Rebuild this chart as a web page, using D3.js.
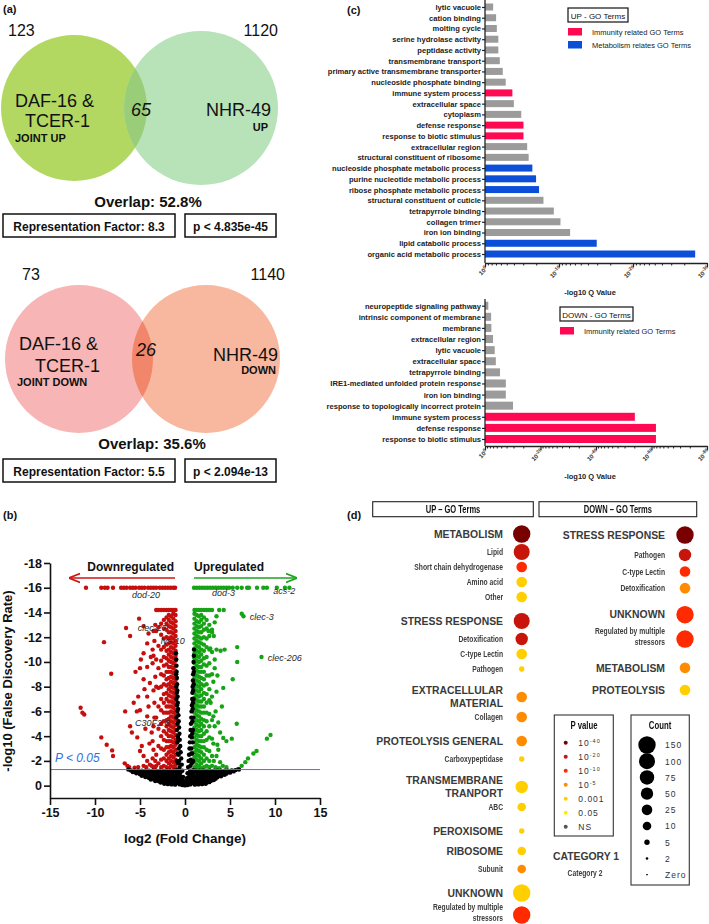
<!DOCTYPE html>
<html><head><meta charset="utf-8">
<script src="https://cdn.jsdelivr.net/npm/d3@7"></script>
<style>body{margin:0;background:#fff}svg{display:block}</style>
</head><body><svg id="c" width="709" height="924"></svg>
<script>
// ================= DATA =================
// (a) Venn
const vennUpNumbers = [123, 65, 1120];
const vennUpStats = ["Overlap: 52.8%", "Representation Factor: 8.3", "p < 4.835e-45"];
const vennDownNumbers = [73, 26, 1140];
const vennDownStats = ["Overlap: 35.6%", "Representation Factor: 5.5", "p < 2.094e-13"];

// (b) Volcano: [log2FC, log10 FDR shown as negative]
const volcanoXTicks = [-15, -10, -5, 0, 5, 10, 15];
const volcanoYTicks = [0, -2, -4, -6, -8, -10, -12, -14, -16, -18];
const fdrThreshold = -1.3;
const downCapX = [-11.0,-9.3,-8.9,-8.6,-8.0,-7.1,-6.8,-6.5,-6.1,-5.8,-5.5,-5.1,-4.8,-4.5,-4.1,-3.8,-3.5,-3.2,-2.8,-2.5,-2.2,-1.9,-1.6,-1.3,-1.1];
const upCapX = [1.0,1.3,1.6,1.9,2.2,2.5,2.8,3.1,3.4,3.7,4.0,4.3,4.6,4.9,5.3,5.8,6.3,6.9,7.1,8.0,8.7,9.1,10.2,11.1,11.6];
const capY = -16;
const downBlock = [
 [-1.05,[-14.2,-13.8,-13.3,-12.9,-12.5,-12.1,-11.7,-11.3,-10.9,-10.5,-10.1,-9.7,-9.3,-8.9,-8.5,-8.1,-7.7,-7.3,-6.9,-6.5,-6.1,-5.7,-5.3,-4.9,-4.5,-4.1,-3.7,-3.3,-2.9,-2.5,-2.1,-1.7,-1.4]],
 [-1.3,[-14.2,-13.9,-13.5,-13.1,-12.7,-12.3,-11.9,-11.5,-11.1,-10.7,-10.3,-9.9,-9.5,-9.1,-8.7,-8.3,-7.9,-7.5,-7.1,-6.7,-6.3,-5.9,-5.5,-5.1,-4.7,-4.3,-3.9,-3.5,-3.1,-2.7,-2.3,-1.9,-1.5]],
 [-1.55,[-14.2,-13.7,-13.2,-12.8,-12.4,-12.0,-11.6,-11.2,-10.8,-10.4,-10.0,-9.6,-9.2,-8.8,-8.4,-8.0,-7.6,-7.2,-6.8,-6.4,-6.0,-5.6,-5.2,-4.8,-4.4,-4.0,-3.6,-3.2,-2.8,-2.4,-2.0,-1.6]],
 [-1.8,[-14.2,-13.8,-13.4,-12.9,-12.4,-11.9,-11.5,-11.0,-10.6,-10.1,-9.6,-9.2,-8.7,-8.2,-7.8,-7.3,-6.8,-6.4,-5.9,-5.4,-5.0,-4.5,-4.0,-3.6,-3.1,-2.7,-2.2,-1.8,-1.4]],
 [-2.05,[-14.2,-13.6,-13.1,-12.6,-12.0,-11.4,-10.9,-10.3,-9.8,-9.2,-8.6,-8.1,-7.5,-7.0,-6.4,-5.9,-5.3,-4.8,-4.2,-3.6,-3.1,-2.5,-2.0,-1.5]],
 [-2.35,[-14.2,-13.4,-12.7,-11.9,-11.2,-10.4,-9.7,-8.9,-8.2,-7.4,-6.7,-5.9,-5.2,-4.4,-3.7,-2.9,-2.2,-1.6]],
 [-2.65,[-14.2,-13.1,-12.2,-11.0,-10.1,-9.0,-8.0,-7.0,-6.1,-5.0,-4.0,-3.0,-2.1,-1.5]],
 [-2.95,[-14.2,-12.8,-11.3,-9.5,-7.9,-6.4,-4.6,-3.2,-1.8]],
 [-3.2,[-14.2,-12.5,-10.2,-8.0,-5.5,-2.5,-1.6]]
];
const upBlock = [
 [1.05,[-14.2,-13.9,-13.5,-13.1,-12.7,-12.3,-11.9,-11.5,-11.1,-10.7,-10.3,-9.9,-9.5,-9.1,-8.7,-8.3,-7.9,-7.5,-7.1,-6.7,-6.3,-5.9,-5.5,-5.1,-4.7,-4.3,-3.9,-3.5,-3.1,-2.7,-2.3,-1.9,-1.5]],
 [1.3,[-14.2,-13.8,-13.3,-12.9,-12.5,-12.1,-11.7,-11.3,-10.9,-10.5,-10.1,-9.7,-9.3,-8.9,-8.5,-8.1,-7.7,-7.3,-6.9,-6.5,-6.1,-5.7,-5.3,-4.9,-4.5,-4.1,-3.7,-3.3,-2.9,-2.5,-2.1,-1.7,-1.4]],
 [1.55,[-14.2,-13.7,-13.2,-12.8,-12.4,-12.0,-11.6,-11.2,-10.8,-10.4,-10.0,-9.6,-9.2,-8.8,-8.4,-8.0,-7.6,-7.2,-6.8,-6.4,-6.0,-5.6,-5.2,-4.8,-4.4,-4.0,-3.6,-3.2,-2.8,-2.4,-2.0,-1.6]],
 [1.8,[-14.2,-13.8,-13.4,-12.9,-12.4,-11.9,-11.5,-11.0,-10.6,-10.1,-9.6,-9.2,-8.7,-8.2,-7.8,-7.3,-6.8,-6.4,-5.9,-5.4,-5.0,-4.5,-4.0,-3.6,-3.1,-2.7,-2.2,-1.8,-1.4]],
 [2.1,[-14.2,-13.6,-13.1,-12.6,-12.0,-11.4,-10.9,-10.3,-9.8,-9.2,-8.6,-8.1,-7.5,-7.0,-6.4,-5.9,-5.3,-4.8,-4.2,-3.6,-3.1,-2.5,-2.0,-1.5]],
 [2.4,[-14.2,-13.4,-12.7,-11.9,-11.2,-10.4,-9.7,-8.9,-8.2,-7.4,-6.7,-5.9,-5.2,-4.4,-3.7,-2.9,-2.2,-1.6]],
 [2.7,[-14.2,-13.0,-12.1,-11.0,-9.9,-8.9,-7.8,-6.9,-5.8,-4.8,-3.9,-2.8,-2.0,-1.5]],
 [3.0,[-14.2,-12.4,-10.8,-9.0,-7.2,-5.3,-3.8,-2.4,-1.6]]
];
const downScatter = [[-5.1,-13.5],[-6.55,-12.75],[-6.1,-12.1],[-9.0,-11.6],[-4.6,-12.9],[-4.05,-12.3],[-4.2,-11.5],[-3.4,-11.7],[-3.6,-11.0],[-8.2,-9.05],[-4.6,-10.7],[-5.5,-9.2],[-5.0,-9.5],[-4.2,-9.6],[-3.6,-9.9],[-4.6,-8.6],[-4.5,-7.8],[-4.2,-7.2],[-5.7,-6.7],[-5.0,-6.1],[-11.6,-6.3],[-11.4,-5.9],[-11.2,-5.75],[-6.65,-6.0],[-5.35,-6.0],[-4.05,-6.4],[-4.2,-5.6],[-6.1,-4.8],[-5.9,-4.3],[-5.3,-3.9],[-9.3,-3.9],[-8.7,-3.3],[-8.1,-2.85],[-8.0,-2.4],[-6.7,-1.8],[-6.4,-1.6],[-6.2,-1.5],[-5.0,-2.8],[-4.6,-2.4],[-4.2,-2.0],[-3.9,-1.7],[-3.95,-3.4],[-3.5,-2.9],[-4.8,-3.2],[-3.5,-4.8],[-3.7,-4.3],[-3.9,-8.3],[-3.5,-7.7],[-3.4,-6.7],[-3.3,-8.8],[-3.5,-1.5],[-3.7,-1.6],[-3.3,-2.0],[-3.6,-2.2],[-3.4,-1.4],[-4.3,-1.5],[-4.6,-1.6],[-5.2,-1.5],[-5.6,-1.45],[-3.3,-13.0],[-3.5,-12.5],[-3.8,-10.4],[-3.4,-5.5],[-3.6,-3.6],[-4.4,-4.6],[-5.2,-7.2],[-4.9,-10.2],[-3.5,-10.5]];
const upScatter = [[3.5,-13.7],[4.3,-14.2],[3.8,-14.2],[6.3,-13.9],[6.5,-13.7],[8.5,-10.4],[5.8,-11.2],[5.8,-10.0],[5.3,-8.6],[3.5,-11.0],[3.95,-10.9],[4.4,-11.0],[2.8,-11.1],[4.25,-7.9],[3.3,-9.5],[3.15,-8.4],[5.75,-5.0],[9.5,-4.1],[9.1,-3.8],[5.2,-3.8],[4.6,-3.6],[4.25,-3.85],[7.95,-2.8],[7.6,-2.6],[7.0,-2.2],[6.7,-1.9],[6.3,-1.6],[5.9,-1.35],[3.7,-2.9],[3.5,-2.4],[3.9,-1.9],[3.15,-3.4],[2.85,-6.7],[3.15,-5.6],[3.3,-4.8],[3.5,-7.6],[4.1,-6.4],[3.7,-5.1],[3.9,-4.3],[2.6,-12.5],[3.0,-12.6],[3.2,-12.1],[3.3,-13.2],[3.4,-6.0],[3.6,-3.3],[3.2,-2.0],[3.4,-1.5],[3.8,-1.4],[4.2,-1.6],[4.6,-1.5],[3.3,-10.2],[3.6,-8.9]];
const nsPoints = [
 [-1.0,-10.7],[-0.97,-10.2],[-0.95,-9.7],[-0.93,-9.2],[-0.9,-8.7],[-0.88,-8.2],[-0.85,-7.7],[-0.82,-7.2],[-0.8,-6.7],[-0.77,-6.2],[-0.73,-5.7],[-0.7,-5.2],[-0.66,-4.7],[-0.62,-4.2],[-0.58,-3.7],[-0.53,-3.2],[-0.48,-2.7],[-0.42,-2.2],[-0.36,-1.7],[-0.3,-1.2],[-0.22,-0.7],[-0.12,-0.3],
 [-0.95,-7.0],[-0.95,-5.5],[-0.9,-4.5],[-0.85,-3.5],[-0.8,-2.6],[-0.75,-1.8],[-0.9,-2.0],[-0.7,-3.0],
 [-0.98,-9.0],[-0.96,-8.0],[-0.9,-7.5],[-0.88,-6.5],[-0.85,-6.0],[-0.82,-5.0],[-0.8,-4.0],[-0.75,-3.8],[-0.7,-2.5],[-0.65,-2.0],[-0.6,-1.5],[-0.55,-1.0],[-0.5,-0.6],[-0.4,-0.2],
 [1.0,-11.0],[0.98,-10.5],[0.95,-10.0],[0.93,-9.5],[0.9,-9.0],[0.88,-8.5],[0.85,-8.0],[0.82,-7.5],[0.8,-7.0],[0.77,-6.5],[0.73,-6.0],[0.7,-5.5],[0.66,-5.0],[0.62,-4.5],[0.58,-4.0],[0.54,-3.5],[0.5,-3.0],[0.45,-2.5],[0.4,-2.0],[0.34,-1.5],[0.28,-1.0],[0.2,-0.6],[0.1,-0.25],
 [0.95,-7.0],[0.92,-5.5],[0.88,-4.5],[0.85,-3.5],[0.8,-2.6],[0.75,-1.8],[0.9,-2.0],[0.7,-3.0],
 [0.98,-9.2],[0.96,-8.2],[0.9,-7.7],[0.88,-6.7],[0.85,-6.2],[0.82,-5.2],[0.8,-4.2],[0.75,-3.9],[0.7,-2.6],[0.65,-2.1],[0.6,-1.6],[0.55,-1.1],[0.5,-0.7],[0.4,-0.25],
 [-0.9,-0.2],[-0.6,-0.1],[-0.3,-0.05],[0,-0.02],[0.3,-0.05],[0.6,-0.1],[0.9,-0.2],[-0.9,-0.6],[-0.6,-0.45],[-0.4,-0.35],[0.4,-0.35],[0.6,-0.45],[0.9,-0.6],[-0.9,-1.0],[-0.65,-0.85],[0.65,-0.85],[0.9,-1.0],[-0.9,-1.25],[-0.6,-1.2],[0.6,-1.2],[0.9,-1.25],
 [-0.75,-0.3],[-0.45,-0.7],[-0.2,-0.4],[0.2,-0.3],[0.45,-0.7],[0.75,-0.3],[-0.75,-1.05],[0.75,-1.05],[-1.0,-0.4],[1.0,-0.4],[-1.0,-0.8],[1.0,-0.8],[-1.0,-1.1],[1.0,-1.1],
 [-6.3,-1.3],[-6.0,-1.22],[-5.6,-1.2],[-5.2,-1.2],[-4.8,-1.2],[-4.4,-1.2],[-4.0,-1.2],[-3.6,-1.2],[-3.2,-1.2],[-2.8,-1.2],[-2.4,-1.2],[-2.0,-1.2],[-1.6,-1.2],[-1.2,-1.2],
 [-5.8,-1.1],[-5.4,-1.05],[-5.0,-1.05],[-4.6,-1.05],[-4.2,-1.05],[-3.8,-1.05],[-3.4,-1.05],[-3.0,-1.05],[-2.6,-1.05],[-2.2,-1.05],[-1.8,-1.05],[-1.4,-1.05],
 [-5.4,-1.0],[-5.0,-0.92],[-4.6,-0.9],[-4.2,-0.9],[-3.8,-0.9],[-3.4,-0.9],[-3.0,-0.9],[-2.6,-0.9],[-2.2,-0.9],[-1.8,-0.9],[-1.4,-0.9],
 [-4.8,-0.8],[-4.4,-0.75],[-4.0,-0.75],[-3.6,-0.75],[-3.2,-0.75],[-2.8,-0.75],[-2.4,-0.75],[-2.0,-0.75],[-1.6,-0.75],[-1.2,-0.75],
 [-4.4,-0.7],[-4.0,-0.62],[-3.6,-0.6],[-3.2,-0.6],[-2.8,-0.6],[-2.4,-0.6],[-2.0,-0.6],[-1.6,-0.6],[-1.2,-0.6],
 [-3.8,-0.5],[-3.4,-0.47],[-3.0,-0.45],[-2.6,-0.45],[-2.2,-0.45],[-1.8,-0.45],[-1.4,-0.45],
 [-3.3,-0.38],[-2.9,-0.35],[-2.5,-0.33],[-2.1,-0.32],[-1.7,-0.3],[-1.3,-0.3],
 [-2.7,-0.25],[-2.3,-0.22],[-1.9,-0.2],[-1.5,-0.2],[-1.2,-0.18],
 [-2.3,-0.15],[-1.9,-0.12],[-1.5,-0.1],[-1.1,-0.08],
 [1.2,-1.2],[1.6,-1.2],[2.0,-1.2],[2.4,-1.2],[2.8,-1.2],[3.2,-1.2],[3.6,-1.2],[4.0,-1.2],[4.4,-1.2],[4.8,-1.2],[5.2,-1.22],[5.6,-1.25],[6.0,-1.3],
 [1.4,-1.05],[1.8,-1.05],[2.2,-1.05],[2.6,-1.05],[3.0,-1.05],[3.4,-1.05],[3.8,-1.05],[4.2,-1.05],[4.6,-1.08],[5.0,-1.12],[5.4,-1.15],
 [1.4,-0.9],[1.8,-0.9],[2.2,-0.9],[2.6,-0.9],[3.0,-0.9],[3.4,-0.9],[3.8,-0.9],[4.2,-0.92],[4.6,-0.97],[5.0,-1.05],
 [1.2,-0.75],[1.6,-0.75],[2.0,-0.75],[2.4,-0.75],[2.8,-0.75],[3.2,-0.75],[3.6,-0.78],[4.0,-0.82],[4.4,-0.87],
 [1.2,-0.6],[1.6,-0.6],[2.0,-0.6],[2.4,-0.6],[2.8,-0.6],[3.2,-0.62],[3.6,-0.68],[4.0,-0.75],
 [1.4,-0.45],[1.8,-0.45],[2.2,-0.45],[2.6,-0.47],[3.0,-0.5],[3.4,-0.55],
 [1.3,-0.3],[1.7,-0.3],[2.1,-0.32],[2.5,-0.35],[2.9,-0.4],[3.2,-0.45],
 [1.2,-0.18],[1.6,-0.2],[2.0,-0.22],[2.4,-0.25],[2.7,-0.28],
 [1.1,-0.08],[1.5,-0.1],[1.9,-0.12],[2.3,-0.15]
];
const geneLabels = [["dod-20",-5.9,-15.2],["dod-3",3.0,-15.35],["acs-2",9.8,-15.5],["clec-3",7.2,-13.4],["clec-206",9.2,-10.1],["clec-27",-5.25,-12.5],["lys-10",-2.7,-11.45],["C30F2.6",-5.55,-4.85]];

// (c) GO bar charts (value = decades of Q value)
const upTerms = ["lytic vacuole","cation binding","molting cycle","serine hydrolase activity","peptidase activity","transmembrane transport","primary active transmembrane transporter","nucleoside phosphate binding","immune system process","extracellular space","cytoplasm","defense response","response to biotic stimulus","extracellular region","structural constituent of ribosome","nucleoside phosphate metabolic process","purine nucleotide metabolic process","ribose phosphate metabolic process","structural constituent of cuticle","tetrapyrrole binding","collagen trimer","iron ion binding","lipid catabolic process","organic acid metabolic process"];
const upLogQ = [1.1,1.5,1.6,1.8,1.8,2.0,2.4,2.8,3.7,3.9,4.9,5.2,5.2,5.7,5.9,6.4,6.9,7.3,7.9,9.3,10.2,11.5,15.1,28.4];
const upGroup = ["o","o","o","o","o","o","o","o","i","o","o","i","i","o","o","m","m","m","o","o","o","o","m","m"];
const upAxisTicks = [0,10,20,30];
const downTerms = ["neuropeptide signaling pathway","intrinsic component of membrane","membrane","extracellular region","lytic vacuole","extracellular space","tetrapyrrole binding","IRE1-mediated unfolded protein response","iron ion binding","response to topologically incorrect protein","immune system process","defense response","response to biotic stimulus"];
const downLogQ = [1.2,2.2,2.3,2.9,3.5,3.9,5.4,7.5,7.5,10.1,54,61.6,61.6];
const downGroup = ["o","o","o","o","o","o","o","o","o","o","i","i","i"];
const downAxisTicks = [0,20,40,60,80];

// (d) bubble chart: [label ("|" = line break), level, p class, count]
const pLevels = ["1e-40","1e-20","1e-10","1e-5","0.001","0.05","NS"];
const pLegendText = [["10","-40"],["10","-20"],["10","-10"],["10","-5"],["0.001",""],["0.05",""],["NS",""]];
const countLevels = [150,100,75,50,25,10,5,2,0];
const countLegendText = ["150","100","75","50","25","10","5","2","Zero"];
const upDotRows = [
 ["METABOLISM",1,"1e-40",150],["Lipid",2,"1e-20",100],["Short chain dehydrogenase",2,"1e-10",25],["Amino acid",2,"0.001",25],["Other",2,"0.001",25],
 ["STRESS RESPONSE",1,"1e-20",100],["Detoxification",2,"1e-20",50],["C-type Lectin",2,"0.001",25],["Pathogen",2,"0.001",5],
 ["EXTRACELLULAR|MATERIAL",1,"1e-5",25],["Collagen",2,"1e-5",25],
 ["PROTEOLYSIS GENERAL",1,"1e-5",25],["Carboxypeptidase",2,"0.001",5],
 ["TRANSMEMBRANE|TRANPORT",1,"0.001",50],["ABC",2,"0.001",10],
 ["PEROXISOME",1,"0.001",5],
 ["RIBOSOME",1,"0.001",10],["Subunit",2,"1e-5",10],
 ["UNKNOWN",1,"0.001",150],["Regulated by multiple|stressors",2,"1e-10",150]
];
const downDotRows = [
 ["STRESS RESPONSE",1,"1e-40",150],["Pathogen",2,"1e-20",50],["C-type Lectin",2,"1e-10",25],["Detoxification",2,"1e-5",25],
 ["UNKNOWN",1,"1e-10",150],["Regulated by multiple|stressors",2,"1e-10",150],
 ["METABOLISM",1,"1e-5",25],["PROTEOLYSIS",1,"0.001",25]
];

// ================= DRAWING =================
const SANS = "'Liberation Sans', Arial, Helvetica, sans-serif";
const svg = d3.select("#c").style("font-family", SANS);
const defs = svg.append("defs");
const gf = defs.append("filter").attr("id", "gray").attr("x", "-5%").attr("y", "-20%").attr("width", "110%").attr("height", "140%");
gf.append("feColorMatrix").attr("type", "saturate").attr("values", 0);

function txt(g, s, x, y, o = {}) {
  const t = g.append("text").attr("x", x).attr("y", y).text(s)
    .attr("font-size", o.size || 10).attr("font-weight", o.weight || "normal")
    .attr("fill", o.fill || "#111").attr("text-anchor", o.anchor || "start");
  if (o.style) t.attr("font-style", o.style);
  if (o.ls) t.attr("letter-spacing", o.ls);
  return t;
}
// condensed text: horizontally compressed around its anchor point, kept neutral grey
function ntxt(g, s, x, y, o = {}) {
  const w = g.append("g").attr("filter", "url(#gray)");
  const t = txt(w, s, 0, 0, o);
  t.attr("transform", `translate(${x},${y}) scale(${o.sx || 0.78},1)`);
  return t;
}

// panel letters
[["(a)",3,13],["(c)",347,14],["(b)",3,519],["(d)",347,519]].forEach(d => txt(svg, d[0], d[1], d[2], {size: 11, weight: "bold"}));

// ---------- (a) Venn ----------
function drawVenn(o) {
  const g = svg.append("g");
  g.append("clipPath").attr("id", o.id).append("circle").attr("cx", o.L[0]).attr("cy", o.L[1]).attr("r", o.L[2]);
  g.append("circle").attr("cx", o.L[0]).attr("cy", o.L[1]).attr("r", o.L[2]).attr("fill", o.colors[0]);
  g.append("circle").attr("cx", o.R[0]).attr("cy", o.R[1]).attr("r", o.R[2]).attr("fill", o.colors[1]);
  g.append("circle").attr("cx", o.R[0]).attr("cy", o.R[1]).attr("r", o.R[2]).attr("fill", o.colors[2]).attr("clip-path", `url(#${o.id})`);
  txt(g, String(o.nums[0]), o.numL[0], o.numL[1], {size: 16});
  txt(g, String(o.nums[2]), o.numR[0], o.numR[1], {size: 16, anchor: "end"});
  txt(g, String(o.nums[1]), o.mid[0], o.mid[1], {size: 18, style: "italic", anchor: "middle"});
  txt(g, "DAF-16 &", o.daf[0], o.daf[1], {size: 18});
  txt(g, "TCER-1", o.tcer[0], o.tcer[1], {size: 18});
  txt(g, o.joint, o.jt[0], o.jt[1], {size: 11, weight: "bold"});
  txt(g, "NHR-49", o.nhr[0], o.nhr[1], {size: 18, anchor: "end"});
  txt(g, o.dir, o.dr[0], o.dr[1], {size: 11, weight: "bold", anchor: "end"});
  txt(g, o.stats[0], o.ov[0], o.ov[1], {size: 15, weight: "bold", anchor: "middle"});
  const by = o.boxY;
  g.append("rect").attr("x", 3).attr("y", by).attr("width", 172).attr("height", 23).attr("fill", "none").attr("stroke", "#111").attr("stroke-width", 1.5);
  g.append("rect").attr("x", 185).attr("y", by).attr("width", 91).attr("height", 23).attr("fill", "none").attr("stroke", "#111").attr("stroke-width", 1.5);
  txt(g, o.stats[1], 89, by + 17, {size: 12, weight: "bold", anchor: "middle"});
  txt(g, o.stats[2], 230.5, by + 17, {size: 12, weight: "bold", anchor: "middle"});
}
drawVenn({id: "vu", L: [74,108,73], R: [201,108,77], colors: ["#b3d862","#b8e2b8","#99cd78"],
  nums: vennUpNumbers, numL: [8,36], numR: [278,36], mid: [141,116], daf: [15,107], tcer: [25,127], joint: "JOINT UP", jt: [15,142],
  nhr: [271,116], dir: "UP", dr: [268,131], stats: vennUpStats, ov: [148,207], boxY: 214});
drawVenn({id: "vd", L: [79,359,74], R: [206,359,74], colors: ["#f7b5b5","#f8b89f","#f1866a"],
  nums: vennDownNumbers, numL: [22,280], numR: [285,280], mid: [146,356], daf: [19,350], tcer: [35,372], joint: "JOINT DOWN", jt: [17,386],
  nhr: [278,361], dir: "DOWN", dr: [276,374], stats: vennDownStats, ov: [152,449], boxY: 459});

// ---------- (b) Volcano ----------
const vx = d3.scaleLinear().domain([-15, 15]).range([50, 320]);
const vy = d3.scaleLinear().domain([1, -18]).range([798, 563]);
const gv = svg.append("g");
const redPts = downCapX.map(x => [x, capY]).concat(downBlock.flatMap(c => c[1].map(y => [c[0], y])), downScatter);
const greenPts = upCapX.map(x => [x, capY]).concat(upBlock.flatMap(c => c[1].map(y => [c[0], y])), upScatter);
gv.selectAll(".r").data(redPts).join("circle").attr("cx", d => vx(d[0])).attr("cy", d => vy(d[1])).attr("r", 2.2).attr("fill", "#c50f0f");
gv.selectAll(".g").data(greenPts).join("circle").attr("cx", d => vx(d[0])).attr("cy", d => vy(d[1])).attr("r", 2.2).attr("fill", "#16a316");
gv.selectAll(".k").data(nsPoints).join("circle").attr("cx", d => vx(d[0])).attr("cy", d => vy(d[1])).attr("r", 2.2).attr("fill", "#000");
gv.append("line").attr("x1", vx(-15)).attr("x2", vx(15)).attr("y1", vy(fdrThreshold)).attr("y2", vy(fdrThreshold)).attr("stroke", "#3c7ee6").attr("stroke-width", 1);
txt(gv, "P < 0.05", 55, 762, {size: 12, style: "italic", fill: "#2f6fe0"});
geneLabels.forEach(d => txt(gv, d[0], vx(d[1]), vy(d[2]), {size: 9, style: "italic", fill: "#2a2a2a"}));
const yAx = gv.append("g").attr("transform", `translate(${vx(-15)},0)`)
  .call(d3.axisLeft(vy).tickValues(volcanoYTicks).tickFormat(d => String(d)).tickSize(6).tickSizeOuter(0).tickPadding(2));
const xAx = gv.append("g").attr("transform", `translate(0,${vy(1)})`)
  .call(d3.axisBottom(vx).tickValues(volcanoXTicks).tickFormat(d => String(d)).tickSize(7).tickSizeOuter(0).tickPadding(3));
[yAx, xAx].forEach(a => {
  a.selectAll("path,line").attr("stroke", "#111").attr("stroke-width", 1.6);
  a.selectAll("text").attr("font-size", 12.5).attr("font-weight", "bold").attr("fill", "#111").attr("font-family", SANS);
});
txt(gv, "log2 (Fold Change)", 185, 843, {size: 13.5, weight: "bold", anchor: "middle"});
txt(gv, "-log10 (False Discovery Rate)", 0, 0, {size: 13, weight: "bold", anchor: "middle"}).attr("transform", "translate(12,681) rotate(-90)");
txt(gv, "Downregulated", 174, 571, {size: 12, weight: "bold", anchor: "end"});
txt(gv, "Upregulated", 194, 571, {size: 12, weight: "bold"});
[["ah-r","#d01515"],["ah-g","#1ea51e"]].forEach(m => defs.append("marker").attr("id", m[0]).attr("viewBox", "0 0 10 10").attr("refX", 9).attr("refY", 5)
  .attr("markerWidth", 7).attr("markerHeight", 7).attr("orient", "auto-start-reverse").append("path").attr("d", "M0,1 L10,5 L0,9").attr("fill", "none").attr("stroke", m[1]).attr("stroke-width", 1.6));
gv.append("line").attr("x1", 175).attr("x2", 70).attr("y1", 578).attr("y2", 578).attr("stroke", "#d01515").attr("stroke-width", 1.6).attr("marker-end", "url(#ah-r)");
gv.append("line").attr("x1", 194).attr("x2", 296).attr("y1", 578).attr("y2", 578).attr("stroke", "#1ea51e").attr("stroke-width", 1.6).attr("marker-end", "url(#ah-g)");

// ---------- (c) GO bars ----------
const GOC = {o: "#9b9b9b", i: "#ff0a52", m: "#0b4fd8"};
function goChart(o) {
  const g = svg.append("g");
  const x = d3.scaleLinear().domain([0, o.max]).range([485, 707]);
  const y = d3.scalePoint().domain(o.terms).range(o.yr);
  g.selectAll("rect.b").data(o.terms).join("rect").attr("x", x(0)).attr("y", d => y(d) - o.bh / 2)
    .attr("width", (d, i) => x(o.vals[i]) - x(0)).attr("height", o.bh).attr("fill", (d, i) => GOC[o.grp[i]]);
  const ya = g.append("g").attr("transform", `translate(${x(0)},0)`).call(d3.axisLeft(y).tickSize(3).tickPadding(1));
  ya.select(".domain").remove();
  ya.selectAll("line").attr("stroke", "#222").attr("stroke-width", 1.2);
  ya.selectAll("text").attr("font-size", 7.6).attr("font-weight", "bold").attr("fill", "#222").attr("font-family", SANS);
  g.append("line").attr("x1", x(0)).attr("x2", x(0)).attr("y1", o.top).attr("y2", o.axY).attr("stroke", "#222").attr("stroke-width", 1.3);
  const step = o.ticks[1] - o.ticks[0];
  const minor = [];
  o.ticks.slice(0, -1).forEach(t => d3.range(2, 10).forEach(k => minor.push(t + step * (1 - Math.log10(k)))));
  const xa = g.append("g").attr("transform", `translate(0,${o.axY})`).call(d3.axisBottom(x).tickValues(o.ticks).tickFormat("").tickSize(4).tickSizeOuter(0));
  xa.select(".domain").attr("stroke", "#222").attr("stroke-width", 1.3);
  xa.selectAll("line").attr("stroke", "#222").attr("stroke-width", 1.2);
  g.selectAll("line.mn").data(minor).join("line").attr("x1", d => x(d)).attr("x2", d => x(d)).attr("y1", o.axY).attr("y2", o.axY + 2.5).attr("stroke", "#222").attr("stroke-width", 1);
  o.ticks.forEach(t => {
    const tt = g.append("text").attr("transform", `translate(${x(t) + 3},${o.axY + 6}) rotate(-45)`).attr("text-anchor", "end")
      .attr("font-size", 6.2).attr("font-weight", "bold").attr("fill", "#333");
    tt.append("tspan").text("10");
    tt.append("tspan").attr("dy", -2.5).attr("font-size", 4.6).text(t === 0 ? "0" : "-" + t);
  });
  txt(g, "-log10 Q Value", 590, o.titleY, {size: 7.5, weight: "bold", anchor: "middle", fill: "#222"});
  g.append("rect").attr("x", o.lg[0]).attr("y", o.lg[1]).attr("width", o.lg[2]).attr("height", 14).attr("fill", "none").attr("stroke", "#111").attr("stroke-width", 1.2);
  txt(g, o.lgTitle, o.lg[0] + o.lg[2] / 2, o.lg[1] + 10.5, {size: 8, anchor: "middle"});
  o.lgItems.forEach((it, i) => {
    const yy = o.lg[1] + 20 + i * 13;
    g.append("rect").attr("x", o.lg[0]).attr("y", yy).attr("width", 14).attr("height", 7.5).attr("fill", GOC[it[0]]);
    txt(g, it[1], o.lg[0] + 24, yy + 7, {size: 7.5, fill: "#222"});
  });
}
goChart({terms: upTerms, vals: upLogQ, grp: upGroup, max: 30, ticks: upAxisTicks, yr: [7, 254], bh: 7, top: 0, axY: 263, titleY: 295,
  lg: [568, 8, 60], lgTitle: "UP - GO Terms", lgItems: [["i", "Immunity related GO Terms"], ["m", "Metabolism relates GO Terms"]]});
goChart({terms: downTerms, vals: downLogQ, grp: downGroup, max: 80, ticks: downAxisTicks, yr: [305.7, 439], bh: 8, top: 299, axY: 446, titleY: 479,
  lg: [560, 307, 73], lgTitle: "DOWN - GO Terms", lgItems: [["i", "Immunity related GO Terms"]]});

// ---------- (d) bubble chart ----------
const pColor = d3.scaleOrdinal().domain(pLevels).range(["#780000","#c8150b","#ff2a00","#ff8c00","#ffcf00","#ffee00","#555555"]);
const rScale = d3.scaleLinear().domain(countLevels).range([8.7, 8, 7.2, 6.2, 5.3, 4.3, 2.7, 1.3, 0.6]);
function rowLayout(rows, y0, y1) {
  const raw = []; let acc = 0;
  rows.forEach((r, i) => {
    if (i > 0) {
      const prev = rows[i - 1], two = r[0].includes("|"), prevTwo = prev[0].includes("|");
      let gap;
      if (r[1] === 1) gap = prev[1] === 1 ? 20 : 24;
      else gap = prev[1] === 1 ? 18 : 15;
      if (two) gap += 4;
      if (prevTwo) gap += 2;
      acc += gap;
    }
    raw.push(acc);
  });
  const s = d3.scaleLinear().domain([0, acc]).range([y0, y1]);
  return raw.map(s);
}
function dotColumn(rows, ys, labelX, cx, box, title) {
  const g = svg.append("g");
  g.append("rect").attr("x", box[0]).attr("y", 501.7).attr("width", box[1]).attr("height", 15).attr("fill", "none").attr("stroke", "#222").attr("stroke-width", 1.1);
  ntxt(g, title, box[0] + box[1] / 2, 513, {size: 10.5, weight: "bold", anchor: "middle", fill: "#111", sx: 0.72});
  rows.forEach((r, i) => {
    const cy = ys[i], lines = r[0].split("|");
    g.append("circle").attr("cx", cx).attr("cy", cy).attr("r", rScale(r[3])).attr("fill", pColor(r[2]));
    if (r[1] === 1) {
      const offs = lines.length === 1 ? [3.7] : [-3, 10];
      lines.forEach((l, j) => txt(g, l, labelX, cy + offs[j], {size: 10.4, weight: "bold", anchor: "end", fill: "#3a3a3a"}));
    } else {
      const offs = lines.length === 1 ? [3.2] : [-5.5, 6.3];
      lines.forEach((l, j) => ntxt(g, l, labelX, cy + offs[j], {size: 9, weight: "bold", anchor: "end", fill: "#3c3c3c", sx: 0.75}));
    }
  });
}
dotColumn(upDotRows, rowLayout(upDotRows, 534, 915), 503, 521.7, [372.7, 160.6], "UP \u2013 GO Terms");
dotColumn(downDotRows, rowLayout(downDotRows, 535, 690), 665, 685, [539, 157.7], "DOWN \u2013 GO Terms");

// legends
const gl = svg.append("g");
gl.append("rect").attr("x", 554.3).attr("y", 715).attr("width", 59).attr("height", 121).attr("fill", "none").attr("stroke", "#333").attr("stroke-width", 1.1);
ntxt(gl, "P value", 584, 729, {size: 10, weight: "bold", anchor: "middle", fill: "#111"});
pLevels.forEach((p, i) => {
  const yy = 742.7 + i * 14;
  gl.append("circle").attr("cx", 565.7).attr("cy", yy).attr("r", 2).attr("fill", pColor(p));
  const t = gl.append("text").attr("x", 578.3).attr("y", yy + 3.3).attr("font-size", 8.5).attr("fill", "#333").attr("letter-spacing", 1);
  t.append("tspan").text(pLegendText[i][0]);
  if (pLegendText[i][1]) t.append("tspan").attr("dy", -3).attr("font-size", 5.5).text(pLegendText[i][1]);
});
gl.append("rect").attr("x", 631).attr("y", 715).attr("width", 58.3).attr("height", 170).attr("fill", "none").attr("stroke", "#333").attr("stroke-width", 1.1);
ntxt(gl, "Count", 660, 729, {size: 10, weight: "bold", anchor: "middle", fill: "#111"});
const countY = d3.scalePoint().domain(countLevels).range([745, 874.7]);
countLevels.forEach((c, i) => {
  const yy = countY(c);
  if (c === 0) gl.append("line").attr("x1", 646).attr("x2", 648).attr("y1", yy).attr("y2", yy).attr("stroke", "#000").attr("stroke-width", 1);
  else gl.append("circle").attr("cx", 647).attr("cy", yy).attr("r", rScale(c)).attr("fill", "#000");
  txt(gl, countLegendText[i], 665, yy + 3.3, {size: 8.5, fill: "#333", ls: 1});
});
txt(gl, "CATEGORY 1", 586, 859.5, {size: 10.4, weight: "bold", anchor: "middle", fill: "#3a3a3a"});
ntxt(gl, "Category 2", 585, 876, {size: 9, weight: "bold", anchor: "middle", fill: "#3c3c3c", sx: 0.75});
</script></body></html>
